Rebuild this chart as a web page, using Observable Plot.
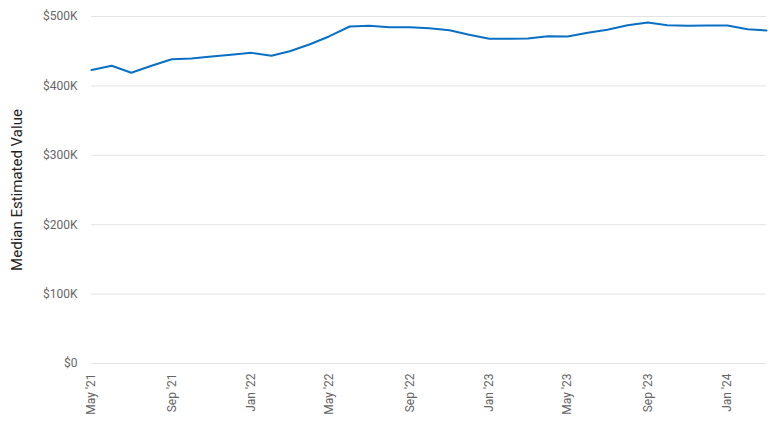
<!DOCTYPE html>
<html>
<head>
<meta charset="utf-8">
<script src="https://cdn.jsdelivr.net/npm/d3@7"></script>
<script src="https://cdn.jsdelivr.net/npm/@observablehq/plot@0.6"></script>
<style>
  html, body { margin: 0; padding: 0; background: #fff; }
  #chart svg { font-family: Roboto, "Liberation Sans", sans-serif; display: block; }
</style>
</head>
<body>
<div id="chart"></div>
<script>
const months = [
  "2021-05","2021-06","2021-07","2021-08","2021-09","2021-10","2021-11","2021-12",
  "2022-01","2022-02","2022-03","2022-04","2022-05","2022-06","2022-07","2022-08",
  "2022-09","2022-10","2022-11","2022-12","2023-01","2023-02","2023-03","2023-04",
  "2023-05","2023-06","2023-07","2023-08","2023-09","2023-10","2023-11","2023-12",
  "2024-01","2024-02","2024-03"
];
const values = [
  423000, 429000, 419000, 429000, 438500, 439500, 442400, 445000,
  447600, 443400, 450000, 460000, 471600, 485600, 486500, 484600,
  484600, 483000, 480300, 473600, 467800, 467800, 468300, 471600,
  471200, 476500, 480800, 487500, 491400, 487500, 486600, 487000,
  487000, 481700, 479800
];
const yTicks = [0, 100000, 200000, 300000, 400000, 500000];
const xTickMonths = ["2021-05","2021-09","2022-01","2022-05","2022-09","2023-01","2023-05","2023-09","2024-01"];

const parse = d3.utcParse("%Y-%m");
const data = months.map((m, i) => ({date: parse(m), value: values[i]}));
const xTicks = xTickMonths.map(parse);
const fmtY = d => d === 0 ? "$0" : "$" + (d / 1000) + "K";
const fmtX = d3.utcFormat("%b '%y");

const chart = Plot.plot({
  width: 774,
  height: 421,
  marginLeft: 91,
  marginRight: 8,
  marginTop: 16,
  marginBottom: 58,
  style: {fontSize: "12px", color: "#666", background: "#fff"},
  x: {type: "utc", domain: [parse("2021-05"), parse("2024-03")]},
  y: {domain: [0, 500000]},
  marks: [
    Plot.gridY(yTicks, {stroke: "#e3e3e3", strokeOpacity: 1, strokeWidth: 1}),
    Plot.axisY(yTicks, {
      tickFormat: fmtY, tickSize: 0, tickPadding: 14, fill: "#666", fontSize: 12,
      label: "Median Estimated Value", labelAnchor: "center", labelArrow: "none", labelOffset: 80
    }),
    Plot.axisX(xTicks, {
      tickFormat: fmtX, tickSize: 0, tickRotate: -90, tickPadding: 10,
      fill: "#666", fontSize: 12, label: null
    }),
    Plot.line(data, {x: "date", y: "value", stroke: "#0a70c4", strokeWidth: 2})
  ]
});
document.getElementById("chart").appendChild(chart);
// axis label styling
chart.querySelectorAll('[aria-label="y-axis label"] text').forEach(t => {
  t.setAttribute("fill", "#222");
  t.style.fontSize = "15px";
});
</script>
</body>
</html>
